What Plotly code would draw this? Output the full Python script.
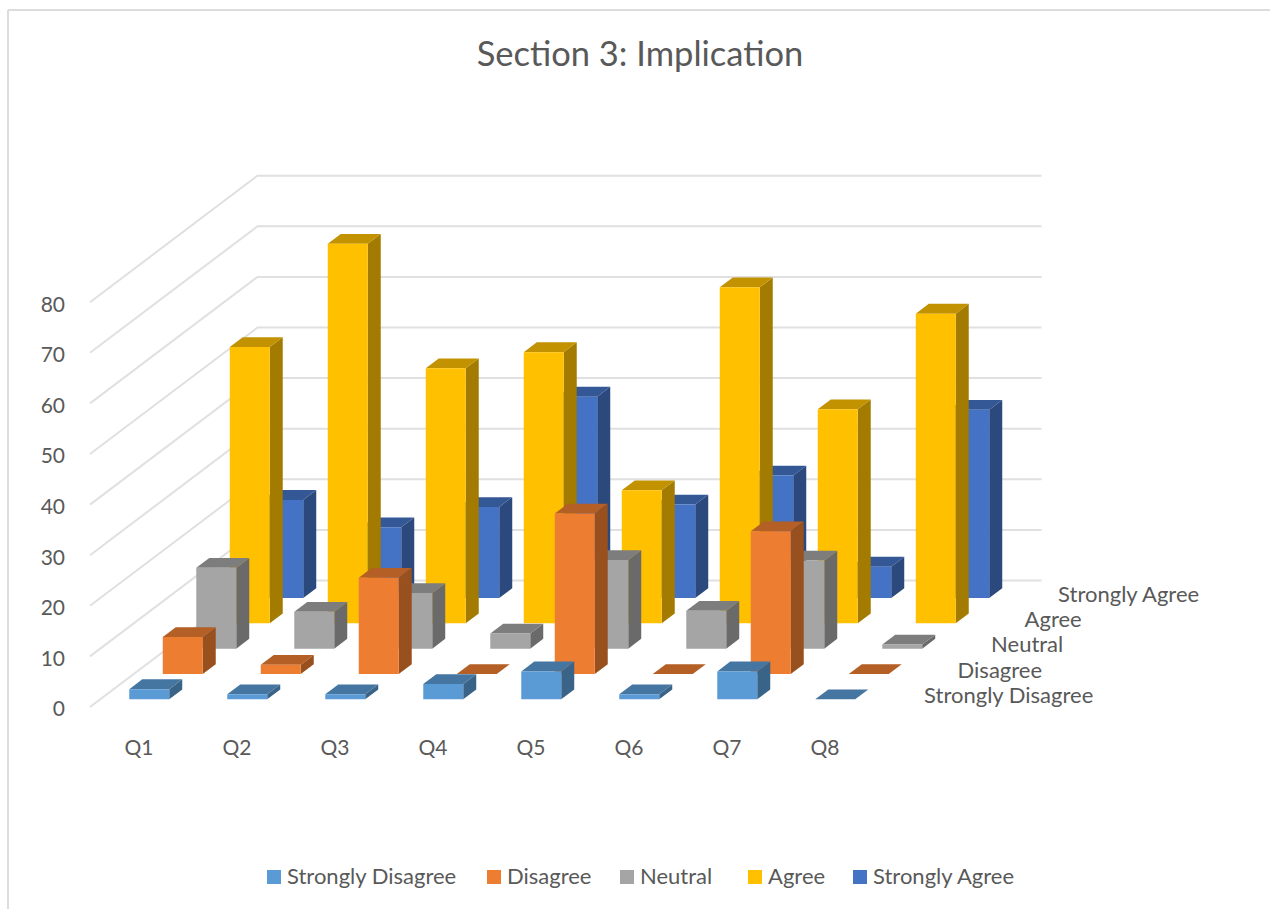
import plotly.graph_objects as go

# Survey responses per question (percent)
questions = ["Q1", "Q2", "Q3", "Q4", "Q5", "Q6", "Q7", "Q8"]
strongly_disagree = [2, 1, 1, 3, 5.5, 1, 5.5, 0]
disagree = [7.3, 1.8, 19, 0, 31.7, 0, 28.2, 0]
neutral = [16, 7.3, 11, 3, 17.5, 7.5, 17.4, 0.8]
agree = [54.6, 75, 50.4, 53.6, 26.3, 66.4, 42.3, 61.2]
strongly_agree = [19.4, 14, 18, 39.8, 18.5, 24.2, 6.2, 37.2]
series_names = ["Strongly Disagree", "Disagree", "Neutral", "Agree", "Strongly Agree"]
series_values = [strongly_disagree, disagree, neutral, agree, strongly_agree]
series_colors = ["#5B9BD5", "#ED7D31", "#A5A5A5", "#FFC000", "#4472C4"]
value_ticks = [0, 10, 20, 30, 40, 50, 60, 70, 80]

TEXT = "#595959"
GRID = "#E0E0E0"
FONT = "Lato"

# Oblique projection: one depth row shifts right and upwards on the page
CAT_PX = 98.0
VALUE_PX = 5.06
ROW_DX = 33.5 / CAT_PX
ROW_DY = 25.3 / VALUE_PX
BAR_W = 0.408
BAR_D = 0.388
LEFT, BOTTOM, WIDTH, HEIGHT = 70, 730, 1270, 909


def project(cat, row, value):
    return cat + ROW_DX * row, value + ROW_DY * row


def shade(color, factor):
    channels = [int(color[i:i + 2], 16) for i in (1, 3, 5)]
    return "rgb({},{},{})".format(*[round(c * factor) for c in channels])


def polygons(faces):
    xs, ys = [], []
    for face in faces:
        pts = [project(*p) for p in face]
        xs += [p[0] for p in pts] + [pts[0][0], None]
        ys += [p[1] for p in pts] + [pts[0][1], None]
    return xs, ys


def px_x(px):
    return (px - LEFT) / (WIDTH - LEFT)


def px_y(py):
    return (BOTTOM - py) / BOTTOM


fig = go.Figure()

# Back wall and side wall gridlines
grid_x, grid_y = [], []
n_rows = len(series_names)
n_cats = len(questions)
for v in value_ticks:
    for p in (project(0, 0, v), project(0, n_rows, v), project(n_cats, n_rows, v)):
        grid_x.append(p[0])
        grid_y.append(p[1])
    grid_x.append(None)
    grid_y.append(None)
fig.add_trace(go.Scatter(x=grid_x, y=grid_y, mode="lines", showlegend=False, hoverinfo="skip",
                         line=dict(color=GRID, width=2)))

# Bars, from the back row to the front row so nearer ones cover farther ones
for row in reversed(range(n_rows)):
    color = series_colors[row]
    d0 = row + (1 - BAR_D) / 2
    d1 = d0 + BAR_D
    fronts, sides, tops = [], [], []
    for i, v in enumerate(series_values[row]):
        c0 = i + (1 - BAR_W) / 2
        c1 = c0 + BAR_W
        fronts.append([(c0, d0, 0), (c1, d0, 0), (c1, d0, v), (c0, d0, v)])
        sides.append([(c1, d0, 0), (c1, d1, 0), (c1, d1, v), (c1, d0, v)])
        tops.append([(c0, d0, v), (c1, d0, v), (c1, d1, v), (c0, d1, v)])
    for faces, tone in ((sides, 0.64), (tops, 0.76), (fronts, 1.0)):
        xs, ys = polygons(faces)
        fig.add_trace(go.Scatter(x=xs, y=ys, mode="lines", fill="toself", fillcolor=shade(color, tone),
                                 line=dict(width=0), name=series_names[row], showlegend=False,
                                 hoverinfo="skip"))

# Series names along the depth axis
label_pts = [project(8.34, row + 0.5, -0.6) for row in range(n_rows)]
fig.add_trace(go.Scatter(x=[p[0] for p in label_pts], y=[p[1] for p in label_pts], mode="text",
                         text=series_names, textposition="middle right", showlegend=False,
                         hoverinfo="skip", textfont=dict(family=FONT, size=22, color=TEXT)))

# Chart frame
shapes = [
    dict(type="line", xref="paper", yref="paper", x0=px_x(8), x1=px_x(8), y0=px_y(10), y1=px_y(909),
         line=dict(color="#DCDCDC", width=2)),
    dict(type="line", xref="paper", yref="paper", x0=px_x(8), x1=px_x(1270), y0=px_y(10), y1=px_y(10),
         line=dict(color="#DCDCDC", width=2)),
]

# Legend row
legend_swatch_x = [267, 487, 620, 748, 853]
annotations = []
for name, color, sx in zip(series_names, series_colors, legend_swatch_x):
    shapes.append(dict(type="rect", xref="paper", yref="paper", x0=px_x(sx), x1=px_x(sx + 14),
                       y0=px_y(870), y1=px_y(884), fillcolor=color, line=dict(width=0)))
    annotations.append(dict(text=name, xref="paper", yref="paper", x=px_x(sx + 18), y=px_y(875.5),
                            xanchor="left", yanchor="middle", showarrow=False,
                            font=dict(family=FONT, size=22, color=TEXT)))

fig.update_layout(
    width=WIDTH, height=HEIGHT,
    autosize=False,
    margin=dict(l=LEFT, r=0, t=0, b=HEIGHT - BOTTOM, pad=0),
    paper_bgcolor="white", plot_bgcolor="white",
    showlegend=False,
    title=dict(text="Section 3: Implication", x=640 / WIDTH, xanchor="center", xref="container",
               y=1 - 54 / HEIGHT, yanchor="middle", yref="container",
               font=dict(family=FONT, size=34.5, color=TEXT)),
    xaxis=dict(range=[(LEFT - 90) / CAT_PX, (WIDTH - 90) / CAT_PX], tickmode="array",
               tickvals=[i + 0.5 for i in range(n_cats)], ticktext=questions,
               showgrid=False, zeroline=False, showline=False, ticks="", ticklen=0,
               ticklabelstandoff=3,
               tickfont=dict(family=FONT, size=21, color=TEXT)),
    yaxis=dict(range=[(707 - BOTTOM) / VALUE_PX, 707 / VALUE_PX], tickmode="array",
               tickvals=value_ticks, showgrid=False, zeroline=False, showline=False, ticks="",
               ticklabelstandoff=4, ticklabelshift=2,
               tickfont=dict(family=FONT, size=21, color=TEXT)),
    shapes=shapes,
    annotations=annotations,
)

fig.write_html("out.html", config={"displayModeBar": False})
